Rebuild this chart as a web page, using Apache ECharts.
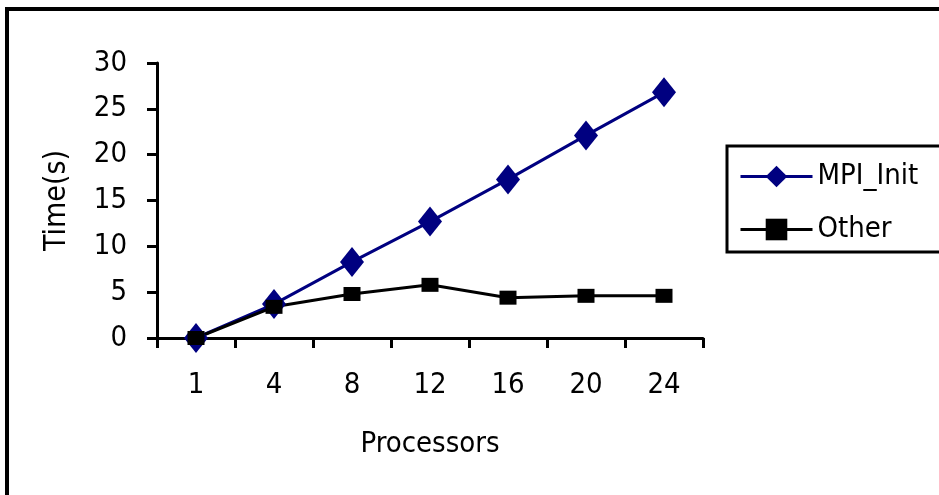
<!DOCTYPE html>
<html>
<head>
<meta charset="utf-8">
<script src="https://cdn.jsdelivr.net/npm/echarts@6/dist/echarts.min.js"></script>
<style>
html,body{margin:0;padding:0;background:#fff;}
#chart{width:939px;height:495px;}
</style>
</head>
<body>
<div id="chart"></div>
<script>
var categories = ['1', '4', '8', '12', '16', '20', '24'];
var mpiInit = [0, 3.7, 8.3, 12.7, 17.3, 22.1, 26.8];
var other = [0, 3.4, 4.8, 5.8, 4.4, 4.6, 4.6];
var yTicks = { min: 0, max: 30, interval: 5 };
var seriesNames = ['MPI_Init', 'Other'];

var FONT = "'Liberation Sans Narrow', 'Arial Narrow', 'DejaVu Sans Condensed', sans-serif";
var chart = echarts.init(document.getElementById('chart'));
chart.setOption({
  animation: false,
  backgroundColor: '#fff',
  textStyle: { fontFamily: FONT, color: '#000' },
  grid: { left: 157, right: 236, top: 63, bottom: 157 },
  legend: {
    left: 727, top: 146,
    orient: 'vertical',
    padding: [16, 80, 8, 12],
    borderColor: '#000', borderWidth: 3,
    itemWidth: 72, itemHeight: 27, itemGap: 24,
    lineStyle: { width: 3 },
    textStyle: { fontFamily: FONT, fontSize: 29, color: '#000', lineHeight: 27 },
    data: seriesNames
  },
  xAxis: {
    type: 'category',
    data: categories,
    boundaryGap: true,
    name: 'Processors',
    nameLocation: 'middle',
    nameGap: 92,
    nameTextStyle: { fontFamily: FONT, fontSize: 29, color: '#000' },
    axisLine: { lineStyle: { color: '#000', width: 3 } },
    axisTick: { show: true, length: 10, lineStyle: { color: '#000', width: 3 }, alignWithLabel: false },
    axisLabel: { fontFamily: FONT, fontSize: 29, color: '#000', margin: 33 },
    splitLine: { show: false }
  },
  yAxis: {
    type: 'value',
    min: yTicks.min, max: yTicks.max, interval: yTicks.interval,
    name: 'Time(s)',
    nameLocation: 'middle',
    nameGap: 85,
    nameTextStyle: { fontFamily: FONT, fontSize: 30, color: '#000' },
    axisLine: { show: true, lineStyle: { color: '#000', width: 3 } },
    axisTick: { show: true, length: 10, lineStyle: { color: '#000', width: 3 } },
    axisLabel: { fontFamily: FONT, fontSize: 29, color: '#000', margin: 30 },
    splitLine: { show: false }
  },
  series: [
    {
      name: seriesNames[0], type: 'line', data: mpiInit,
      symbol: 'diamond', symbolSize: [24, 30],
      lineStyle: { color: '#000080', width: 3 },
      itemStyle: { color: '#000080' }
    },
    {
      name: seriesNames[1], type: 'line', data: other,
      symbol: 'rect', symbolSize: [17, 14],
      lineStyle: { color: '#000', width: 3 },
      itemStyle: { color: '#000' }
    }
  ],
  graphic: [
    { type: 'rect', shape: { x: 5, y: 7, width: 940, height: 4 }, style: { fill: '#000' } },
    { type: 'rect', shape: { x: 5, y: 7, width: 4, height: 490 }, style: { fill: '#000' } }
  ]
});
</script>
</body>
</html>
